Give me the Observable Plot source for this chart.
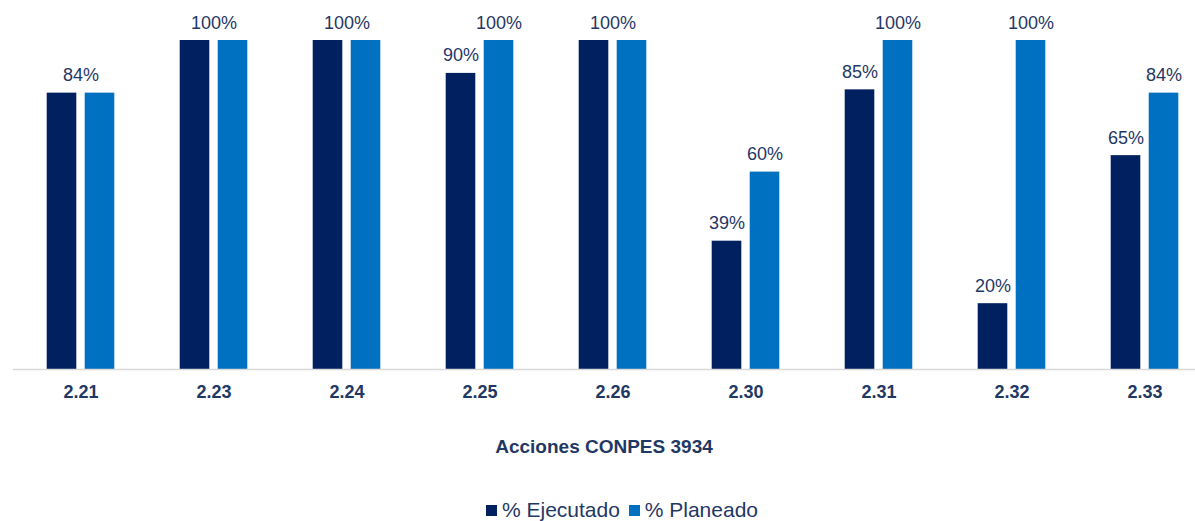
<!DOCTYPE html>
<html>
<head>
<meta charset="utf-8">
<script src="https://cdn.jsdelivr.net/npm/d3@7"></script>
<script src="https://cdn.jsdelivr.net/npm/@observablehq/plot@0.6"></script>
<style>
  html, body { margin: 0; padding: 0; background: #fff; }
  body { width: 1195px; height: 521px; overflow: hidden; font-family: "Liberation Sans", Arial, sans-serif; }
  #title { height: 74px; line-height: 74px; padding-left: 13px; text-align: center; font-weight: bold; font-size: 19px; color: #1F3864; }
  #legend { height: 37px; line-height: 52px; padding-left: 486px; font-size: 21px; color: #1F3864; white-space: nowrap; }
  .sw { display: inline-block; width: 11px; height: 11px; margin-right: 5px; vertical-align: 1px; }
</style>
</head>
<body>
<div id="chart"></div>
<div id="title">Acciones CONPES 3934</div>
<div id="legend"><span class="sw" style="background:#002060"></span>% Ejecutado <span class="sw" style="background:#0070C0;margin-left:3px"></span>% Planeado</div>
<script>
const categories = ["2.21", "2.23", "2.24", "2.25", "2.26", "2.30", "2.31", "2.32", "2.33"];
const ejecutado = [84, 100, 100, 90, 100, 39, 85, 20, 65];
const planeado = [84, 100, 100, 100, 100, 60, 100, 100, 84];
const seriesNames = ["% Ejecutado", "% Planeado"];
const colors = ["#002060", "#0070C0"];

const ejData = categories.map((c, i) => ({cat: c, value: ejecutado[i]}));
const plData = categories.map((c, i) => ({cat: c, value: planeado[i]}));
const sameLabels = [];
const ejLabels = [];
const plLabels = [];
categories.forEach((c, i) => {
  if (ejecutado[i] === planeado[i]) sameLabels.push({cat: c, value: ejecutado[i]});
  else { ejLabels.push({cat: c, value: ejecutado[i]}); plLabels.push({cat: c, value: planeado[i]}); }
});

const fmt = d => d.value + "%";
const textOpts = {x: "cat", y: "value", text: fmt, lineAnchor: "bottom", dy: -12, fill: "#1F3864", fontSize: 18};

const chart = Plot.plot({
  width: 1195,
  height: 410,
  marginTop: 40,
  marginBottom: 41,
  marginLeft: 13,
  marginRight: 0,
  style: {fontFamily: "'Liberation Sans', Arial, sans-serif", background: "#fff"},
  x: {domain: categories, range: [12.3, 1212.7], padding: 0, label: null},
  y: {domain: [0, 100], axis: null},
  marks: [
    Plot.barY(ejData, {x: "cat", y: "value", fill: colors[0], insetLeft: 32.7, insetRight: 70.7}),
    Plot.barY(plData, {x: "cat", y: "value", fill: colors[1], insetLeft: 70.7, insetRight: 32.7}),
    Plot.ruleY([0], {stroke: "#D9D9D9", strokeWidth: 1.5}),
    Plot.text(sameLabels, {...textOpts}),
    Plot.text(ejLabels, {...textOpts, dx: -19}),
    Plot.text(plLabels, {...textOpts, dx: 19}),
    Plot.axisX({tickSize: 0, tickPadding: 16, fontSize: 18, fontWeight: "bold", color: "#1F3864", label: null})
  ]
});
document.getElementById("chart").appendChild(chart);
</script>
</body>
</html>
